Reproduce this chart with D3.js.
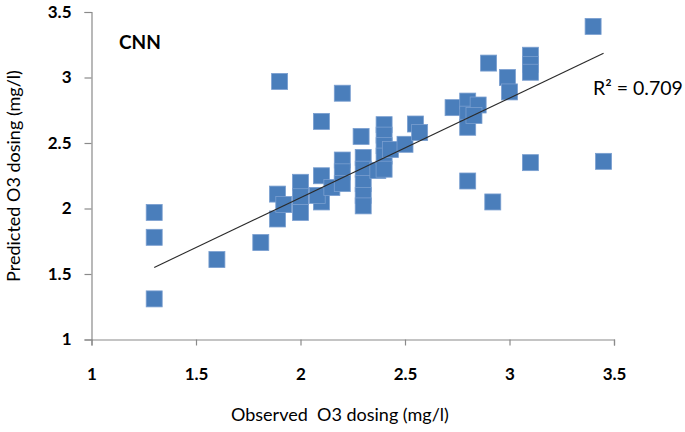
<!DOCTYPE html>
<html>
<head>
<meta charset="utf-8">
<script src="https://cdn.jsdelivr.net/npm/d3@7"></script>
<style>
  html, body { margin: 0; padding: 0; background: #fff; }
  svg { display: block; }
  text { font-family: Lato, "Open Sans", sans-serif; fill: #000; }
</style>
</head>
<body>
<svg id="chart" width="685" height="432"></svg>
<script>
// ---- data ----
const observed = [1.30, 1.30, 1.30, 1.60, 1.81, 1.90, 1.89, 1.89, 1.92, 2.00,
                  2.00, 2.00, 2.10, 2.10, 2.08, 2.10, 2.15, 2.20, 2.20, 2.20,
                  2.20, 2.29, 2.30, 2.30, 2.30, 2.30, 2.30, 2.37, 2.40, 2.40,
                  2.40, 2.40, 2.40, 2.43, 2.50, 2.55, 2.57, 2.73, 2.80, 2.80,
                  2.80, 2.85, 2.83, 2.80, 2.92, 2.90, 2.99, 3.00, 3.10, 3.10,
                  3.10, 3.10, 3.40, 3.45];
const predicted = [1.97, 1.78, 1.31, 1.61, 1.74, 2.97, 2.11, 1.92, 2.03, 2.20,
                   2.09, 1.97, 2.25, 2.05, 2.10, 2.665, 2.16, 2.37, 2.28, 2.19,
                   2.88, 2.55, 2.39, 2.30, 2.19, 2.10, 2.02, 2.29, 2.64, 2.56,
                   2.48, 2.40, 2.30, 2.45, 2.49, 2.645, 2.58, 2.77, 2.82, 2.72,
                   2.62, 2.79, 2.71, 2.21, 2.05, 3.11, 3.00, 2.89, 3.17, 3.10,
                   3.04, 2.35, 3.39, 2.36];
const trendX = [1.30, 3.45];
const trendY = [1.55, 3.185];
const xTicks = [1, 1.5, 2, 2.5, 3, 3.5];
const yTicks = [1, 1.5, 2, 2.5, 3, 3.5];
const seriesLabel = "CNN";
const r2Label = "R² = 0.709";
const xTitle = "Observed  O3 dosing (mg/l)";
const yTitle = "Predicted O3 dosing (mg/l)";

// ---- drawing ----
const svg = d3.select("#chart");
const x = d3.scaleLinear().domain([1, 3.5]).range([91.5, 614]);
const y = d3.scaleLinear().domain([1, 3.5]).range([339.5, 12]);
const axisColor = "#8a8a8a";

const xAxis = svg.append("g").attr("transform", "translate(0,339.5)")
  .call(d3.axisBottom(x).tickValues(xTicks).tickSize(6).tickPadding(29)
        .tickFormat(d3.format("")));
const yAxis = svg.append("g").attr("transform", "translate(91.5,0)")
  .call(d3.axisLeft(y).tickValues(yTicks).tickSize(7).tickPadding(13)
        .tickFormat(d3.format("")));
[xAxis, yAxis].forEach(g => {
  g.select(".domain").attr("stroke", axisColor).attr("stroke-width", 1.2);
  g.selectAll(".tick line").attr("stroke", axisColor).attr("stroke-width", 1.2);
  g.selectAll(".tick text").attr("fill", "#000")
    .style("font-family", "Lato, sans-serif")
    .style("font-size", "17px").style("font-weight", "bold");
});
xAxis.selectAll(".tick text").attr("dy", "0.32em");

const pts = observed.map((o, i) => ({ o, p: predicted[i] }));
const s = 16;
svg.append("g").selectAll("rect").data(pts).join("rect")
  .attr("x", d => x(d.o) - s / 2)
  .attr("y", d => y(d.p) - s / 2)
  .attr("width", s).attr("height", s)
  .attr("fill", "#4a7ebb")
  .attr("stroke", "#7a9fd0")
  .attr("stroke-width", 0.8);

svg.append("line")
  .attr("x1", x(trendX[0])).attr("y1", y(trendY[0]))
  .attr("x2", x(trendX[1])).attr("y2", y(trendY[1]))
  .attr("stroke", "#2a2a2a").attr("stroke-width", 1.1);

svg.append("text").attr("x", 119).attr("y", 49)
  .style("font-size", "19px").style("font-weight", "bold").text(seriesLabel);
svg.append("text").attr("x", 593).attr("y", 95)
  .style("font-size", "19.5px").text(r2Label);
svg.append("text").attr("x", 231).attr("y", 421)
  .style("font-size", "18px").style("white-space", "pre").text(xTitle);
svg.append("text").attr("transform", "translate(20,176) rotate(-90)")
  .attr("text-anchor", "middle")
  .style("font-size", "18px").text(yTitle);
</script>
</body>
</html>
